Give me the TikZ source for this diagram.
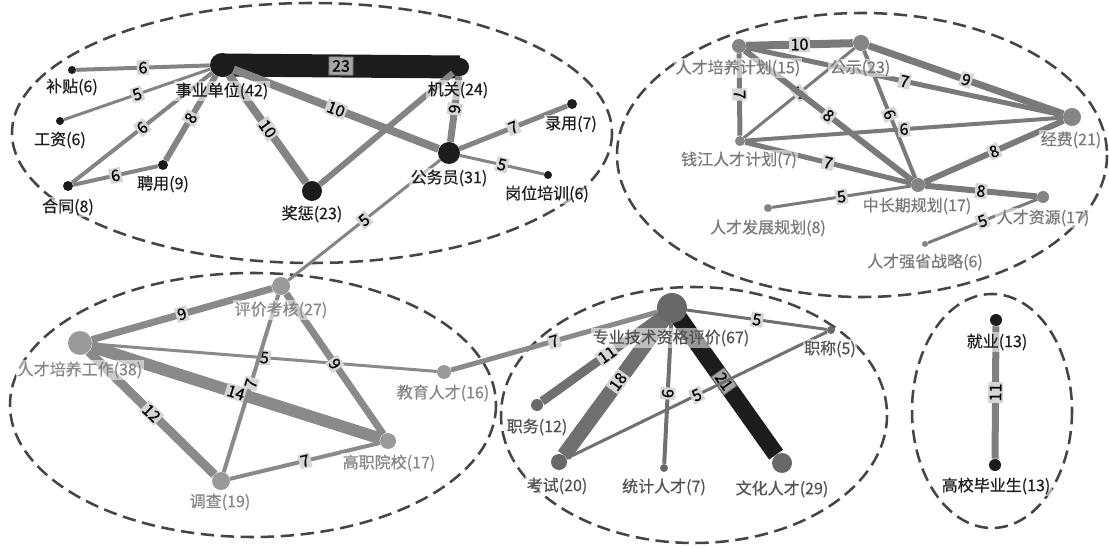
\documentclass[tikz,border=0pt]{standalone}
\usepackage{fontspec}
\setmainfont[FakeBold=0.6]{Noto Sans CJK SC}
\pgfdeclarelayer{bg}
\pgfdeclarelayer{edges}
\pgfsetlayers{bg,edges,main}
\definecolor{tln}{HTML}{1C1C1C}
\definecolor{tle}{HTML}{848484}
\definecolor{trn}{HTML}{858585}
\definecolor{tre}{HTML}{7A7A7A}
\definecolor{bln}{HTML}{9A9A9A}
\definecolor{ble}{HTML}{8A8A8A}
\definecolor{bmn}{HTML}{686868}
\definecolor{bme}{HTML}{707070}
\definecolor{grpc}{HTML}{454545}
\begin{document}
\begin{tikzpicture}[x=0.75pt,y=-0.75pt,
  vx/.style={circle,inner sep=0pt,minimum size=#1*1.5pt},
  ew/.style={line width=#1*0.75pt},
  lab/.style={font=\fontsize{12}{14}\selectfont, inner sep=1pt, fill=white, fill opacity=0.55, text opacity=1},
  elab/.style={font=\fontsize{12}{14}\selectfont, inner sep=1.2pt, fill=black!16, draw=none, line width=0.6pt, sloped, text=black},
  bigelab/.style={elab, inner sep=2.4pt, fill=black!35, draw=black!60},
  grp/.style={draw=grpc, dash pattern=on 10pt off 5pt, line width=1.9pt},
]
\useasboundingbox (0,0) rectangle (1109,548);
\begin{pgfonlayer}{bg}
\fill[white] (0,0) rectangle (1109,548);
% ---------- groups ----------
\draw[grp] (312,133) ellipse [x radius=300, y radius=130];
\draw[grp] (862,155) ellipse [x radius=245, y radius=142];
\draw[grp] (253,405) ellipse [x radius=243, y radius=132];
\draw[grp] (694,415) ellipse [x radius=193, y radius=128];
\draw[grp] (992,411) ellipse [x radius=80, y radius=117];
\end{pgfonlayer}

% ---------- vertices: personnel system ----------
\node[vx=12, fill=tln] (sy) at (222,65) {};
\node[vx=9, fill=tln] (jg) at (460,67) {};
\node[vx=4, fill=tln] (bt) at (72,70) {};
\node[vx=4, fill=tln] (gzi) at (60,121) {};
\node[vx=5, fill=tln] (ht) at (68,186) {};
\node[vx=5, fill=tln] (py) at (163,165) {};
\node[vx=10, fill=tln] (jc) at (312,191) {};
\node[vx=11, fill=tln] (gwy) at (449,153) {};
\node[vx=5, fill=tln] (ly) at (572,104) {};
\node[vx=4, fill=tln] (gwp) at (548,175) {};

% ---------- vertices: talent plans ----------
\node[vx=7, fill=trn] (rp) at (739,46) {};
\node[vx=8, fill=trn] (gs) at (861,43) {};
\node[vx=9, fill=trn] (jf) at (1072,117) {};
\node[vx=5, fill=trn] (qj) at (740,141) {};
\node[vx=7, fill=trn] (zq) at (918,185) {};
\node[vx=6, fill=trn] (rz) at (1043,197) {};
\node[vx=4, fill=trn] (rf) at (768,208) {};
\node[vx=3, fill=trn] (rq) at (925,244) {};

% ---------- vertices: training and assessment ----------
\node[vx=9, fill=bln] (pj) at (281,286) {};
\node[vx=12, fill=bln] (rg) at (80,343) {};
\node[vx=7, fill=bln] (jy) at (444,372) {};
\node[vx=8, fill=bln] (gy) at (388,441) {};
\node[vx=9, fill=bln] (dc) at (221,481) {};

% ---------- vertices: qualification evaluation ----------
\node[vx=15, fill=bmn] (zy) at (672,308) {};
\node[vx=4, fill=bmn] (zch) at (831,330) {};
\node[vx=6, fill=bmn] (zw) at (537,405) {};
\node[vx=8, fill=bmn] (ks) at (559,462) {};
\node[vx=4, fill=bmn] (tj) at (664,468) {};
\node[vx=10, fill=bmn] (wh) at (782,463) {};

% ---------- vertices: employment ----------
\node[vx=6, fill=tln] (jye) at (996,320) {};
\node[vx=6, fill=tln] (gx) at (995,465) {};

% ---------- edges ----------
\begin{pgfonlayer}{edges}
\draw[ew=23, tln] (sy.center) -- node[bigelab]{23} (jg.center);
\draw[ew=4, tle] (sy) -- node[elab]{6} (bt);
\draw[ew=3, tle] (sy) -- node[elab]{5} (gzi);
\draw[ew=4, tle] (sy) -- node[elab]{6} (ht);
\draw[ew=6, tle] (sy) -- node[elab]{8} (py);
\draw[ew=8, tle] (sy) -- node[elab]{10} (jc);
\draw[ew=8, tle] (sy) -- node[elab]{10} (gwy);
\draw[ew=4, tle] (ht) -- node[elab]{6} (py);
\draw[ew=6, tle] (jc) -- (jg);
\draw[ew=7, tle] (jg) -- node[elab]{9} (gwy);
\draw[ew=5, tle] (gwy) -- node[elab]{7} (ly);
\draw[ew=3, tle] (gwy) -- node[elab]{5} (gwp);
\draw[ew=3, tle] (gwy) -- node[elab]{5} (pj);

\draw[ew=3, tre] (gs) -- node[elab]{5} (qj);
\draw[ew=8, tre] (rp) -- node[elab]{10} (gs);
\draw[ew=5, tre] (rp) -- node[elab]{7} (jf);
\draw[ew=7, tre] (gs) -- node[elab]{9} (jf);
\draw[ew=5, tre] (rp) -- node[elab]{7} (qj);
\draw[ew=6, tre] (rp) -- node[elab]{8} (zq);
\draw[ew=4, tre] (gs) -- node[elab]{6} (zq);
\draw[ew=4, tre] (qj) -- node[elab]{6} (jf);
\draw[ew=5, tre] (qj) -- node[elab]{7} (zq);
\draw[ew=6, tre] (zq) -- node[elab]{8} (jf);
\draw[ew=6, tre] (zq) -- node[elab]{8} (rz);
\draw[ew=3, tre] (zq) -- node[elab]{5} (rf);
\draw[ew=3, tre] (rz) -- node[elab]{5} (rq);

\draw[ew=7, ble] (rg) -- node[elab]{9} (pj);
\draw[ew=3, ble] (rg) -- node[elab]{5} (jy);
\draw[ew=12, ble] (rg) -- node[elab]{14} (gy);
\draw[ew=9, ble] (rg) -- node[elab]{12} (dc);
\draw[ew=4, ble] (pj) -- node[elab]{7} (dc);
\draw[ew=7, ble] (pj) -- node[elab]{9} (gy);
\draw[ew=4, ble] (dc) -- node[elab]{7} (gy);
\draw[ew=5, ble] (jy) -- node[elab]{7} (zy);

\draw[ew=3, bme] (zy) -- node[elab]{5} (zch);
\draw[ew=9, bme] (zy.center) -- node[elab]{11} (zw);
\draw[ew=15, bme] (zy.center) -- node[elab]{18} (ks);
\draw[ew=4, bme] (zy) -- node[elab]{6} (tj);
\draw[ew=17, tln] (zy.center) -- node[bigelab, inner sep=1.6pt]{21} (wh);
\draw[ew=3, bme] (ks) -- node[elab]{5} (zch);

\draw[ew=7, black!50] (jye) -- node[elab]{11} (gx);
\end{pgfonlayer}

% ---------- vertex labels ----------
\begin{scope}[every node/.append style={lab, text=black!88}]
\node (l-sy) at (222,91) {事业单位(42)};
\node (l-jg) at (458,90) {机关(24)};
\node (l-bt) at (72,87) {补贴(6)};
\node (l-gz) at (60,140) {工资(6)};
\node (l-ht) at (68,207) {合同(8)};
\node (l-py) at (163,184) {聘用(9)};
\node (l-jc) at (312,214) {奖惩(23)};
\node (l-gwy) at (449,178) {公务员(31)};
\node (l-ly) at (571,124) {录用(7)};
\node (l-gwp) at (547,194) {岗位培训(6)};
\node (l-jye) at (997,342) {就业(13)};
\node (l-gx) at (996,486) {高校毕业生(13)};
\end{scope}
\begin{scope}[every node/.append style={lab, text=black!52}]
\node (l-rp) at (738,68) {人才培养计划(15)};
\node (l-gs) at (860,68) {公示(23)};
\node (l-jf) at (1071,140) {经费(21)};
\node (l-qj) at (739,160) {钱江人才计划(7)};
\node (l-zq) at (917,206) {中长期规划(17)};
\node (l-rz) at (1043,218) {人才资源(17)};
\node (l-rf) at (768,228) {人才发展规划(8)};
\node (l-rq) at (925,262) {人才强省战略(6)};
\end{scope}
\begin{scope}[every node/.append style={lab, text=black!47}]
\node (l-pj) at (281,310) {评价考核(27)};
\node (l-rg) at (80,370) {人才培养工作(38)};
\node (l-jy) at (443,393) {教育人才(16)};
\node (l-gy) at (389,463) {高职院校(17)};
\node (l-dc) at (220,502) {调查(19)};
\end{scope}
\begin{scope}[every node/.append style={lab, text=black!68}]
\node (l-zy) at (671,338) {专业技术资格评价(67)};
\node (l-zch) at (830,349) {职称(5)};
\node (l-zw) at (537,427) {职务(12)};
\node (l-ks) at (557,486) {考试(20)};
\node (l-tj) at (664,487) {统计人才(7)};
\node (l-wh) at (782,489) {文化人才(29)};
\end{scope}
\end{tikzpicture}
\end{document}
